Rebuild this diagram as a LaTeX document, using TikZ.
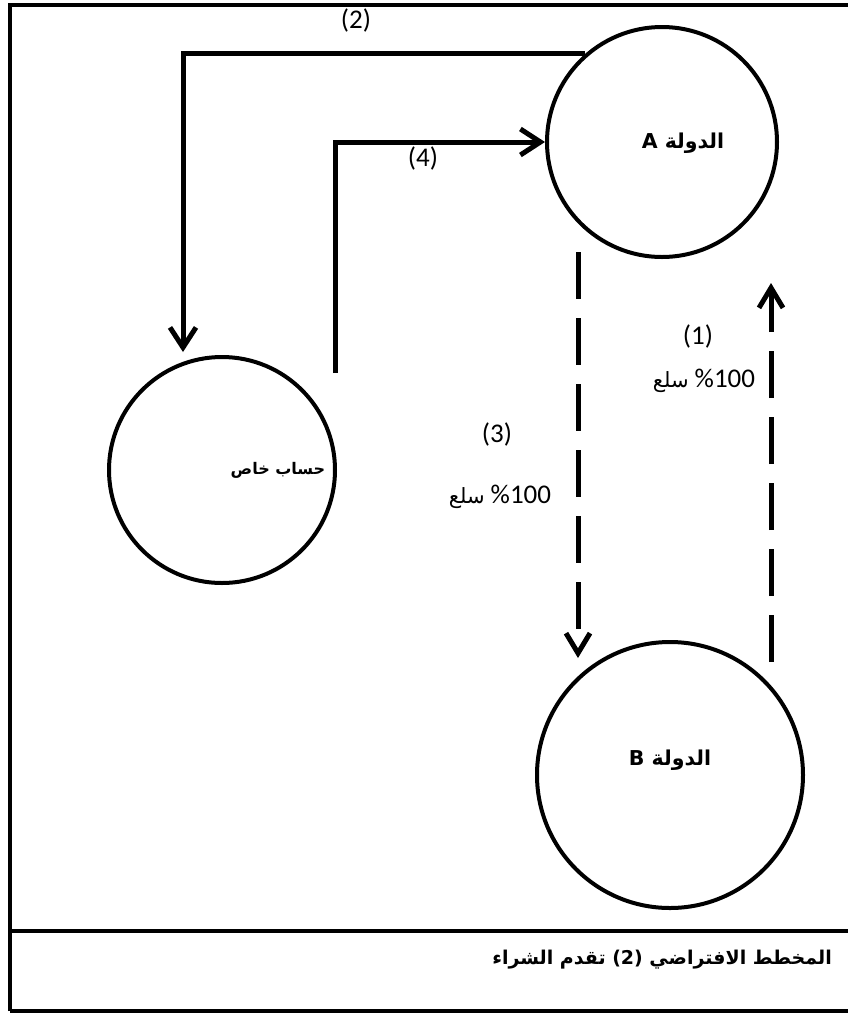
\documentclass[tikz,border=0pt]{standalone}
\usepackage{fontspec}
\setmainfont{Carlito}
\newfontfamily\arabicfont[Script=Arabic]{DejaVu Sans}
\TeXXeTstate=1
\usetikzlibrary{arrows.meta}
\begin{document}
\begin{tikzpicture}[x=1pt,y=-1pt,
  circ/.style={circle,draw,line width=4pt,inner sep=0pt},
  frameline/.style={line width=4pt},
  solidarrow/.style={line width=5pt,line join=miter,-{Straight Barb[length=20pt,width=26pt,line width=5pt]}},
  dasharrow/.style={line width=5pt,dash pattern=on 47pt off 19pt,-{Straight Barb[length=20pt,width=24pt,line width=5pt]}},
  num/.style={font=\fontsize{27}{30}\selectfont,inner sep=0pt},
  arbold/.style={font=\arabicfont\bfseries\fontsize{20.5}{24}\selectfont,inner sep=0pt},
  arboldsmall/.style={font=\arabicfont\bfseries\fontsize{16}{20}\selectfont,inner sep=0pt},
  capstyle/.style={font=\arabicfont\bfseries\fontsize{19}{24}\selectfont,inner sep=0pt},
  goods/.style={font=\fontsize{27}{30}\selectfont,inner sep=0pt}
]
\useasboundingbox (0,0) rectangle (847,1013);
% frame
\draw[frameline] (10,1011) -- (10,5) -- (850,5);
\draw[frameline] (10,931) -- (850,931);
\draw[frameline] (10,1011) -- (850,1011);

% circles
\node[circ,minimum size=230pt] (A) at (662,142) {};
\node[circ,minimum size=226pt] (P) at (222,470) {};
\node[circ,minimum size=266pt] (B) at (670,775) {};

\node[arbold] (At) at (683,143) {\beginR الدولة A\endR};
\node[arboldsmall] (Pt) at (278,470) {\beginR حساب خاص\endR};
\node[arbold] (Bt) at (670,760) {\beginR الدولة B\endR};

% solid connectors
\coordinate (e2) at (183,352);
\draw[solidarrow] (A.131) -| (e2);
\coordinate (s4) at (335,373);
\draw[solidarrow] (s4) |- (A.west);

% dashed connectors
\coordinate (d3s) at (578,252);
\coordinate (d3e) at (578,658);
\draw[dasharrow] (d3s) -- (d3e);
\coordinate (d1s) at (771,662);
\coordinate (d1e) at (771,283);
\draw[dasharrow] (d1s) -- (d1e);

% labels
\node[num] (l2) at (356,20) {(2)};
\node[num] (l4) at (423,158) {(4)};
\node[num] (l1) at (698,336) {(1)};
\node[num] (l3) at (497,434) {(3)};
\node[goods] (g1) at (704,381) {{\arabicfont\fontsize{21}{24}\selectfont\beginR سلع\endR} \%100};
\node[goods] (g3) at (500,497) {{\arabicfont\fontsize{21}{24}\selectfont\beginR سلع\endR} \%100};

% caption
\node[capstyle,anchor=east] (cap) at (832,960) {\beginR المخطط الافتراضي (2) تقدم الشراء\endR};
\end{tikzpicture}
\end{document}
